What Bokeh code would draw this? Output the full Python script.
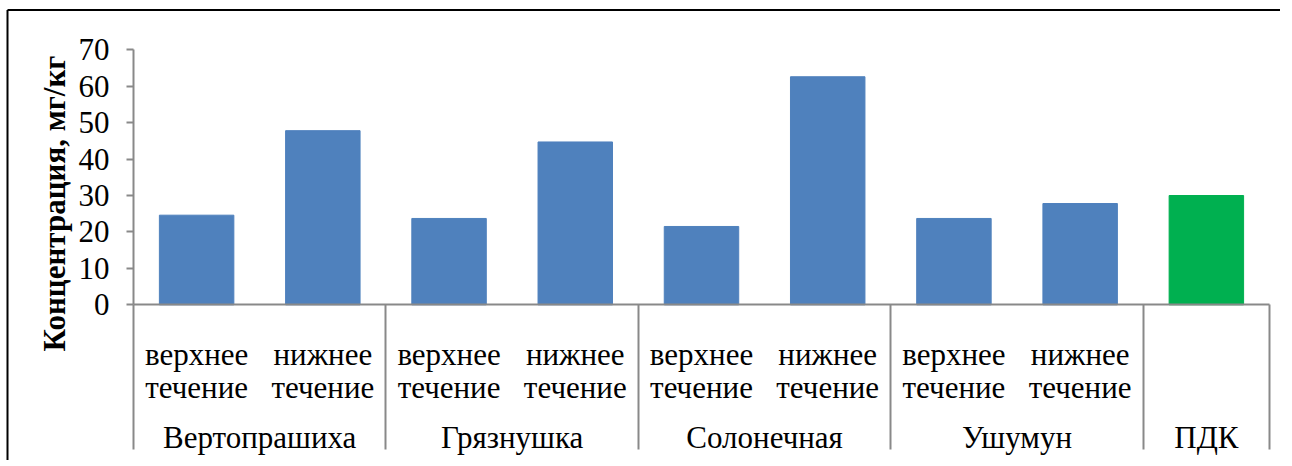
import numpy as np
from bokeh.plotting import figure
from bokeh.models import Range1d, FixedTicker, LinearAxis, ColumnDataSource
from bokeh.core.properties import value
from bokeh.embed import file_html
from bokeh.resources import INLINE

# ---- data ----
groups = ["Вертопрашиха", "Грязнушка", "Солонечная", "Ушумун", "ПДК"]
group_sizes = [2, 2, 2, 2, 1]
sub_labels = ["верхнее течение", "нижнее течение",
              "верхнее течение", "нижнее течение",
              "верхнее течение", "нижнее течение",
              "верхнее течение", "нижнее течение",
              ""]
values = [24.6, 47.8, 23.7, 44.7, 21.5, 62.6, 23.7, 27.8, 30.0]
bar_colors = ["#4F81BD"] * 8 + ["#00B050"]
y_ticks = [0, 10, 20, 30, 40, 50, 60, 70]
y_title = "Концентрация, мг/кг"

FONT = "Liberation Serif"
GRAY = "#898989"
FS = "31px"

n = len(values)
xs = [i + 0.5 for i in range(n)]
bounds = [float(b) for b in np.cumsum([0] + group_sizes)]
gcenters = [(bounds[i] + bounds[i + 1]) / 2 for i in range(len(groups))]

# layout: plot frame covers the whole canvas; axes drawn at fixed locations
W, H = 1280, 460
PX_X = 126.22          # pixels per category
PX_Y = 3.643           # pixels per unit (mg/kg)
X0, Y0 = 133, 304.3    # page position of the origin
x_range = Range1d(-X0 / PX_X, (W - X0) / PX_X)
y_range = Range1d(-(H - Y0) / PX_Y, Y0 / PX_Y)

p = figure(width=W, height=H, output_backend="svg", toolbar_location=None,
           x_range=x_range, y_range=y_range,
           min_border_left=0, min_border_right=0, min_border_top=0, min_border_bottom=0,
           x_axis_type=None, y_axis_type=None)
p.outline_line_color = None
p.grid.visible = False
p.background_fill_color = "white"
p.border_fill_color = "white"

src = ColumnDataSource(dict(x=xs, top=values, color=bar_colors))
p.vbar(x="x", top="top", bottom=0, width=0.59, color="color", source=src)

# y axis
ya = LinearAxis(ticker=FixedTicker(ticks=y_ticks), fixed_location=0, bounds=(0, 70))
ya.axis_line_color = GRAY
ya.axis_line_width = 2
ya.major_tick_line_color = GRAY
ya.major_tick_line_width = 2
ya.major_tick_out = 7
ya.major_tick_in = 0
ya.minor_tick_line_color = None
ya.major_label_text_font = FONT
ya.major_label_text_font_size = FS
ya.major_label_text_color = "black"
ya.major_label_standoff = 17
p.add_layout(ya, "left")

# x axis with group separators
xa = LinearAxis(ticker=FixedTicker(ticks=bounds), fixed_location=0, bounds=(0, n))
xa.axis_line_color = GRAY
xa.axis_line_width = 2
xa.major_tick_line_color = GRAY
xa.major_tick_line_width = 2
xa.major_tick_out = 145
xa.major_tick_in = 0
xa.minor_tick_line_color = None
xa.major_label_text_color = None
xa.major_label_text_font_size = "1px"
p.add_layout(xa, "below")

top_words = [s.split(" ")[0] if s else "" for s in sub_labels]
bot_words = [s.split(" ")[1] if s else "" for s in sub_labels]

lab_src = ColumnDataSource(dict(x=xs, t1=top_words, t2=bot_words))
for col, yv in (("t1", -13.64), ("t2", -22.78)):
    p.text(x="x", y=yv, text=col, source=lab_src, text_align="center",
           text_baseline="alphabetic", text_font=value(FONT), text_font_size=FS,
           text_color="black")

g_src = ColumnDataSource(dict(x=gcenters, t=groups))
p.text(x="x", y=-36.34, text="t", source=g_src, text_align="center",
       text_baseline="alphabetic", text_font=value(FONT), text_font_size=FS,
       text_color="black")

p.text(x=[(54 - X0) / PX_X], y=[27.8], text=[y_title], angle=np.pi / 2,
       text_align="center", text_baseline="middle", text_font=value(FONT),
       text_font_size=FS, text_font_style="bold", text_color="black")

# outer chart border: top and left edges (the rest lies outside the picture)
bx = (7 - X0) / PX_X
by = (Y0 - 9.5) / PX_Y
p.segment(x0=[bx, bx], y0=[by, by], x1=[x_range.end + 2, bx], y1=[by, y_range.start - 20],
          line_color="black", line_width=2)

open("out.html", "w").write(file_html(p, INLINE))
